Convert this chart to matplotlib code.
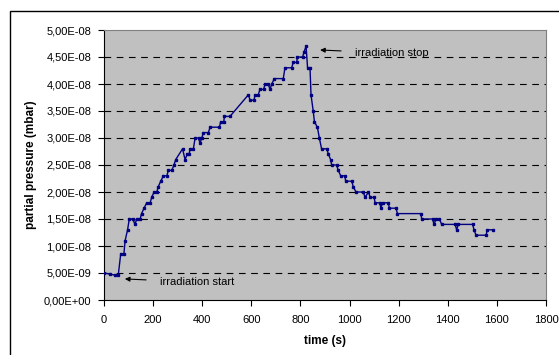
import numpy as np
import matplotlib.pyplot as plt
from matplotlib.patches import Rectangle
from matplotlib.ticker import FuncFormatter, MultipleLocator

plt.rcParams['font.family'] = ['Liberation Sans', 'DejaVu Sans']

# =========================
# DATA (pressure in units of 1E-09 mbar)
# =========================
time_a = [0, 24, 45, 58, 68, 81, 86, 96, 103, 117, 126, 133, 147, 153, 163, 174,
          188, 194, 204, 215, 221, 231, 242, 256, 262, 276, 285, 292, 320, 330,
          339, 347, 350, 364, 371, 385, 391, 398, 405, 425, 432, 470, 475, 488,
          490, 513]
press_a = [5.0, 4.8, 4.6, 4.6, 8.5, 8.5, 11, 13, 15, 15, 14, 15, 15, 16, 17, 18,
           18, 19, 20, 20, 21, 22, 23, 23, 24, 24, 25, 26, 28, 26,
           27, 27, 28, 28, 30, 30, 29, 30, 31, 31, 32, 32, 33, 33,
           34, 34]

time_b = [588, 595, 611, 615, 628, 635, 650, 656, 669, 676, 683, 694, 730, 737,
          764, 771, 785, 787, 809, 815, 823, 829, 839, 843, 852, 857, 869, 877,
          886, 907, 914, 923, 927, 947, 954, 964, 981, 984, 1009, 1015, 1026,
          1056, 1063, 1077, 1084, 1100, 1104, 1124, 1127, 1135, 1158, 1162, 1189,
          1195, 1290, 1294, 1338, 1344, 1352, 1366, 1375, 1430, 1436, 1443, 1501,
          1507, 1515, 1556, 1561, 1586]
press_b = [38, 37, 37, 38, 38, 39, 39, 40, 40, 39, 40, 41, 41, 43,
           43, 44, 44, 45, 45, 46, 47, 43, 43, 38, 35, 33, 32, 30,
           28, 28, 27, 26, 25, 25, 24, 23, 23, 22, 22, 21, 20,
           20, 19, 20, 19, 19, 18, 18, 17, 18, 18, 17, 17,
           16, 16, 15, 15, 14, 15, 15, 14, 14, 13, 14, 14,
           13, 12, 12, 13, 13]

time_all = time_a + time_b
press_all = np.array(press_a + press_b) * 1e-9

x_ticks = [0, 200, 400, 600, 800, 1000, 1200, 1400, 1600, 1800]

# =========================
# FIGURE
# =========================
fig = plt.figure(figsize=(5.59, 3.55), dpi=100)
ax = fig.add_axes([104 / 559, 1 - 300 / 355, 442 / 559, 270 / 355])

# outer chart frame (runs off the right and bottom edge)
fig.patches.append(Rectangle((10 / 559, -0.2), 1.2, 1 - 11 / 355 + 0.2,
                             transform=fig.transFigure, fill=False,
                             edgecolor='black', linewidth=1.0))

ax.set_facecolor('#c0c0c0')
for y in np.arange(5e-9, 4.6e-8, 5e-9):
    ax.axhline(y, color='black', linewidth=0.8, dashes=(6, 5), zorder=1)

ax.plot(time_all, press_all, color='#000080', linewidth=1.0,
        marker='s', markersize=1.8, zorder=3)

ax.set_xlim(0, 1800)
ax.set_ylim(0, 5e-8)
ax.set_xticks(x_ticks)
ax.yaxis.set_major_locator(MultipleLocator(5e-9))
ax.yaxis.set_major_formatter(FuncFormatter(lambda v, p: f"{v:.2E}".replace('.', ',')))

ax.tick_params(axis='both', labelsize=8, direction='out', length=4, width=0.8)
ax.tick_params(axis='x', pad=7)
ax.tick_params(axis='y', pad=5)

for side in ['top', 'right']:
    ax.spines[side].set_color('#808080')
for side in ['left', 'bottom']:
    ax.spines[side].set_color('black')

ax.set_xlabel("time (s)", fontsize=8.5, fontweight='bold', labelpad=7)
ax.set_ylabel("partial pressure (mbar)", fontsize=8.5, fontweight='bold', labelpad=5)

# annotations
ax.annotate("irradiation start", xy=(85, 3.9e-9), xytext=(228, 3.3e-9),
            fontsize=8, va='center', ha='left',
            arrowprops=dict(arrowstyle='-|>', color='black', lw=0.8,
                            mutation_scale=7, shrinkA=8, shrinkB=0))
ax.annotate("irradiation stop", xy=(880, 4.63e-8), xytext=(1022, 4.57e-8),
            fontsize=8, va='center', ha='left',
            arrowprops=dict(arrowstyle='-|>', color='black', lw=0.8,
                            mutation_scale=7, shrinkA=8, shrinkB=0))

fig.savefig("out.png", dpi=100)
